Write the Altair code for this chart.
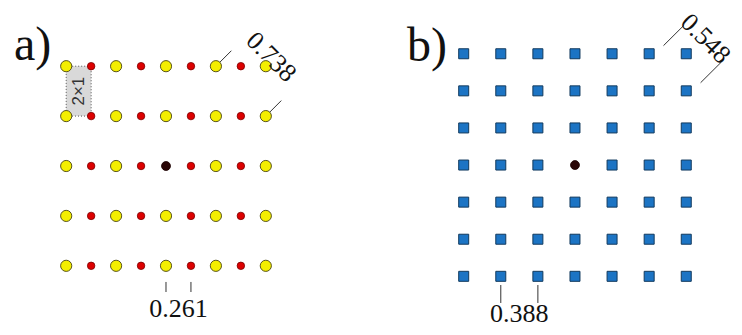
import altair as alt
import pandas as pd

# ---- data (lengths in nm) ----
# panel a: 2x1 lattice, yellow atoms on even columns, red on odd columns
A_COL_IDX = [-4, -3, -2, -1, 0, 1, 2, 3, 4]
A_ROW_IDX = [-2, -1, 0, 1, 2]
A_DX = 0.261          # yellow-red spacing
A_DY = 0.522          # row spacing
# panel b: square lattice
B_IDX = [-3, -2, -1, 0, 1, 2, 3]
B_D = 0.388
B_ORIGIN = [4.278, 0.01]
DIST_LABELS = ["0.261", "0.738", "0.388", "0.548"]
PANEL_LABELS = ["a)", "b)"]
CELL_LABEL = "2×1"

# ---- build tables ----
atoms = []
for j in A_ROW_IDX:
    for i in A_COL_IDX:
        if i == 0 and j == 0:
            kind = "C"
        elif i % 2 == 0:
            kind = "Y"
        else:
            kind = "R"
        atoms.append({"x": i * A_DX, "y": j * A_DY, "kind": kind})
for j in B_IDX:
    for i in B_IDX:
        kind = "C" if (i == 0 and j == 0) else "S"
        atoms.append({"x": B_ORIGIN[0] + i * B_D, "y": B_ORIGIN[1] + j * B_D, "kind": kind})
atoms = pd.DataFrame(atoms)

cell = pd.DataFrame([{"x": -4 * A_DX, "x2": -3 * A_DX, "y": 1 * A_DY, "y2": 2 * A_DY,
                      "xm": -3.5 * A_DX, "ym": 1.5 * A_DY, "t": CELL_LABEL}])

rules = []
# 0.261 ticks
for i in [0, 1]:
    rules.append({"x": i * A_DX, "y": -1.213, "x2": i * A_DX, "y2": -1.318})
# 0.738 extension lines
for (i, j) in [(2, 2), (4, 1)]:
    rules.append({"x": i * A_DX, "y": j * A_DY, "x2": i * A_DX + 0.162, "y2": j * A_DY + 0.162})
# 0.388 ticks
for i in [-2, -1]:
    rules.append({"x": B_ORIGIN[0] + i * B_D, "y": -1.245, "x2": B_ORIGIN[0] + i * B_D, "y2": -1.433})
# 0.548 extension lines
for (i, j) in [(2, 3), (3, 2)]:
    sx, sy = B_ORIGIN[0] + i * B_D, B_ORIGIN[1] + j * B_D
    rules.append({"x": sx + 0.15, "y": sy + 0.085, "x2": sx + 0.366, "y2": sy + 0.30})
rules = pd.DataFrame(rules)

flat_text = pd.DataFrame([
    {"x": 0.5 * A_DX, "y": -1.579, "t": DIST_LABELS[0]},
    {"x": B_ORIGIN[0] - 1.5 * B_D, "y": -1.63, "t": DIST_LABELS[2]},
])
diag_text = pd.DataFrame([
    {"x": 1.10, "y": 1.14, "t": DIST_LABELS[1]},
    {"x": B_ORIGIN[0] + 1.365, "y": 1.33, "t": DIST_LABELS[3]},
])
panel_text = pd.DataFrame([
    {"x": -1.59, "y": 1.109, "t": PANEL_LABELS[0]},
    {"x": B_ORIGIN[0] - 1.757, "y": 1.098, "t": PANEL_LABELS[1]},
])

XS = alt.Scale(domain=[-1.6527, 5.9414], nice=False, zero=False)
YS = alt.Scale(domain=[-1.6841, 1.6527], nice=False, zero=False)
X = lambda f="x": alt.X(f"{f}:Q", scale=XS, axis=None)
Y = lambda f="y": alt.Y(f"{f}:Q", scale=YS, axis=None)

box = alt.Chart(cell).mark_rect(fill="#d9d9d9", stroke="#555555", strokeWidth=1,
                                strokeDash=[1, 2]).encode(
    x=X(), x2="x2:Q", y=Y(), y2="y2:Q")
box_text = alt.Chart(cell).mark_text(font="Liberation Sans", fontSize=17, angle=270,
                                     color="#333333", baseline="middle", align="center").encode(
    x=X("xm"), y=Y("ym"), text="t:N")

lines = alt.Chart(rules).mark_rule(color="#333333", strokeWidth=1).encode(
    x=X(), y=Y(), x2="x2:Q", y2="y2:Q")

base = alt.Chart(atoms)
yellow = base.transform_filter(alt.datum.kind == "Y").mark_point(
    shape="circle", filled=True, fill="#f4ee00", stroke="#5a551c", strokeWidth=1,
    size=125, opacity=1).encode(x=X(), y=Y())
red = base.transform_filter(alt.datum.kind == "R").mark_point(
    shape="circle", filled=True, fill="#dd0000", stroke="#7a0000", strokeWidth=0.8,
    size=56, opacity=1).encode(x=X(), y=Y())
squares = base.transform_filter(alt.datum.kind == "S").mark_point(
    shape="square", filled=True, fill="#1c74c4", stroke="#123a5e", strokeWidth=1,
    size=100, opacity=1).encode(x=X(), y=Y())
center = base.transform_filter(alt.datum.kind == "C").mark_point(
    shape="circle", filled=True, fill="#2a0606", stroke="#1a0000", strokeWidth=0.8,
    size=80, opacity=1).encode(x=X(), y=Y())

t_flat = alt.Chart(flat_text).mark_text(font="Liberation Serif", fontSize=26, color="#111111",
                                        align="center", baseline="alphabetic").encode(
    x=X(), y=Y(), text="t:N")
t_diag = alt.Chart(diag_text).mark_text(font="Liberation Serif", fontSize=26, color="#111111",
                                        align="center", baseline="middle", angle=45).encode(
    x=X(), y=Y(), text="t:N")
t_panel = alt.Chart(panel_text).mark_text(font="Liberation Serif", fontSize=48, color="#111111",
                                          align="left", baseline="alphabetic").encode(
    x=X(), y=Y(), text="t:N")

chart = alt.layer(box, lines, yellow, red, squares, center, box_text,
                  t_flat, t_diag, t_panel).properties(
    width=726, height=319, padding=0, autosize="none"
).configure_view(stroke=None)

chart.save("out.html", embed_options={"renderer": "svg", "actions": False})
